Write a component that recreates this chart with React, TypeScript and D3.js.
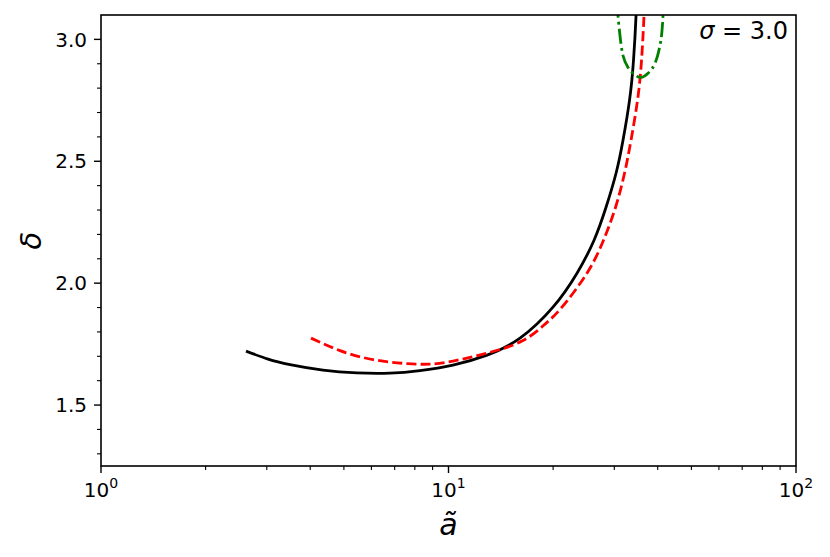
import React, { useEffect, useRef } from "react";
import * as d3 from "d3";

// Black solid curve (a~, delta)
const blackA = [2.614, 3.025, 3.499, 4.353, 5.454, 6.787, 8.278, 10.30, 12.91, 16.06, 19.98, 23.43, 26.23, 28.40, 30.35, 31.78, 33.18, 34.07, 34.65, 34.71];
const blackD = [1.7213, 1.6885, 1.6660, 1.6434, 1.6320, 1.6311, 1.6414, 1.6639, 1.7049, 1.7746, 1.9016, 2.0410, 2.1762, 2.3115, 2.4508, 2.5861, 2.7500, 2.9139, 3.0984, 3.1598];

// Red dashed curve
const redA = [4.021, 4.873, 6.063, 7.596, 8.846, 10.30, 12.91, 16.27, 18.96, 21.21, 25.03, 27.93, 30.25, 32.10, 33.51, 34.99, 35.93, 36.53, 36.60];
const redD = [1.7746, 1.7234, 1.6865, 1.6701, 1.6680, 1.6803, 1.7131, 1.7623, 1.8320, 1.9016, 2.0410, 2.1762, 2.3115, 2.4508, 2.5861, 2.7500, 2.9139, 3.0984, 3.1598];

// Green dash-dot curve
const greenA = [30.60, 30.74, 31.15, 31.78, 32.85, 34.18, 35.81, 37.51, 39.29, 40.61, 41.16, 41.43, 41.50];
const greenD = [3.15, 3.098, 3.016, 2.934, 2.885, 2.857, 2.844, 2.861, 2.902, 2.975, 3.037, 3.098, 3.15];

const xTicks = [1, 10, 100];
const xTickExp = ["0", "1", "2"];
const yTicks = [1.5, 2.0, 2.5, 3.0];
const yTickLabels = ["1.5", "2.0", "2.5", "3.0"];
const annotationSym = "σ";
const annotationRest = " = 3.0";

const W = 830, H = 557;
const M = { left: 101, right: 796, top: 15, bottom: 466 };

export default function App() {
  const ref = useRef<SVGSVGElement>(null);
  useEffect(() => {
    const svg = d3.select(ref.current);
    svg.selectAll("*").remove();
    const x = d3.scaleLog().domain([1, 100]).range([M.left, M.right]);
    const y = d3.scaleLinear().domain([1.25, 3.1]).range([M.bottom, M.top]);
    const font = "DejaVu Sans";

    svg.append("defs").append("clipPath").attr("id", "clip")
      .append("rect").attr("x", M.left).attr("y", M.top)
      .attr("width", M.right - M.left).attr("height", M.bottom - M.top);

    const line = d3.line<[number, number]>()
      .x(d => x(d[0])).y(d => y(d[1]))
      .curve(d3.curveNatural);

    const g = svg.append("g").attr("clip-path", "url(#clip)");
    const series = [
      { a: blackA, d: blackD, color: "#000000", dash: null },
      { a: redA, d: redD, color: "#ff0000", dash: "10,4.2" },
      { a: greenA, d: greenD, color: "#008000", dash: "15,4.2,2.7,4.2" },
    ];
    series.forEach(s => {
      const pts: [number, number][] = s.a.map((v, i) => [v, s.d[i]]);
      const p = g.append("path").attr("d", line(pts)!)
        .attr("fill", "none").attr("stroke", s.color)
        .attr("stroke-width", 2.8).attr("stroke-linecap", "butt");
      if (s.dash) p.attr("stroke-dasharray", s.dash);
    });

    // frame
    svg.append("rect").attr("x", M.left).attr("y", M.top)
      .attr("width", M.right - M.left).attr("height", M.bottom - M.top)
      .attr("fill", "none").attr("stroke", "#000").attr("stroke-width", 1.6);

    // x ticks
    const minorX: number[] = [];
    for (const dec of [1, 10]) for (let k = 2; k <= 9; k++) minorX.push(dec * k);
    minorX.forEach(v => {
      svg.append("line").attr("x1", x(v)).attr("x2", x(v))
        .attr("y1", M.bottom).attr("y2", M.bottom + 4)
        .attr("stroke", "#000").attr("stroke-width", 1.1);
    });
    xTicks.forEach((v, i) => {
      svg.append("line").attr("x1", x(v)).attr("x2", x(v))
        .attr("y1", M.bottom).attr("y2", M.bottom + 7)
        .attr("stroke", "#000").attr("stroke-width", 1.4);
      const t = svg.append("text").attr("x", x(v)).attr("y", M.bottom + 31)
        .attr("text-anchor", "middle").attr("font-family", font)
        .attr("font-size", 20).attr("fill", "#000");
      t.append("tspan").text("10");
      t.append("tspan").attr("dy", -9).attr("font-size", 14).text(xTickExp[i]);
    });

    // y ticks
    const minorY = d3.range(13, 31).map(v => v / 10).filter(v => Math.abs(v * 2 - Math.round(v * 2)) > 1e-6);
    minorY.forEach(v => {
      svg.append("line").attr("x1", M.left - 4).attr("x2", M.left)
        .attr("y1", y(v)).attr("y2", y(v))
        .attr("stroke", "#000").attr("stroke-width", 1.1);
    });
    yTicks.forEach((v, i) => {
      svg.append("line").attr("x1", M.left - 7).attr("x2", M.left)
        .attr("y1", y(v)).attr("y2", y(v))
        .attr("stroke", "#000").attr("stroke-width", 1.4);
      svg.append("text").attr("x", M.left - 14).attr("y", y(v))
        .attr("dy", "0.36em").attr("text-anchor", "end")
        .attr("font-family", font).attr("font-size", 20).attr("fill", "#000")
        .text(yTickLabels[i]);
    });

    // axis labels
    svg.append("text").attr("x", (M.left + M.right) / 2).attr("y", 535)
      .attr("text-anchor", "middle").attr("font-family", font)
      .attr("font-style", "italic").attr("font-size", 30).attr("fill", "#000")
      .text("ã");
    svg.append("text")
      .attr("transform", `translate(41, ${(M.top + M.bottom) / 2}) rotate(-90)`)
      .attr("text-anchor", "middle").attr("font-family", font)
      .attr("font-style", "italic").attr("font-size", 29).attr("fill", "#000")
      .text("δ");

    // annotation
    const ann = svg.append("text").attr("x", 788).attr("y", 39)
      .attr("text-anchor", "end").attr("font-family", font)
      .attr("font-size", 24).attr("fill", "#000");
    ann.append("tspan").attr("font-style", "italic").text(annotationSym);
    ann.append("tspan").text(annotationRest);
  }, []);
  return (
    <div style={{ position: "fixed", left: 0, top: 0 }}>
      <svg ref={ref} width={W} height={H} style={{ display: "block", background: "#fff" }} />
    </div>
  );
}
